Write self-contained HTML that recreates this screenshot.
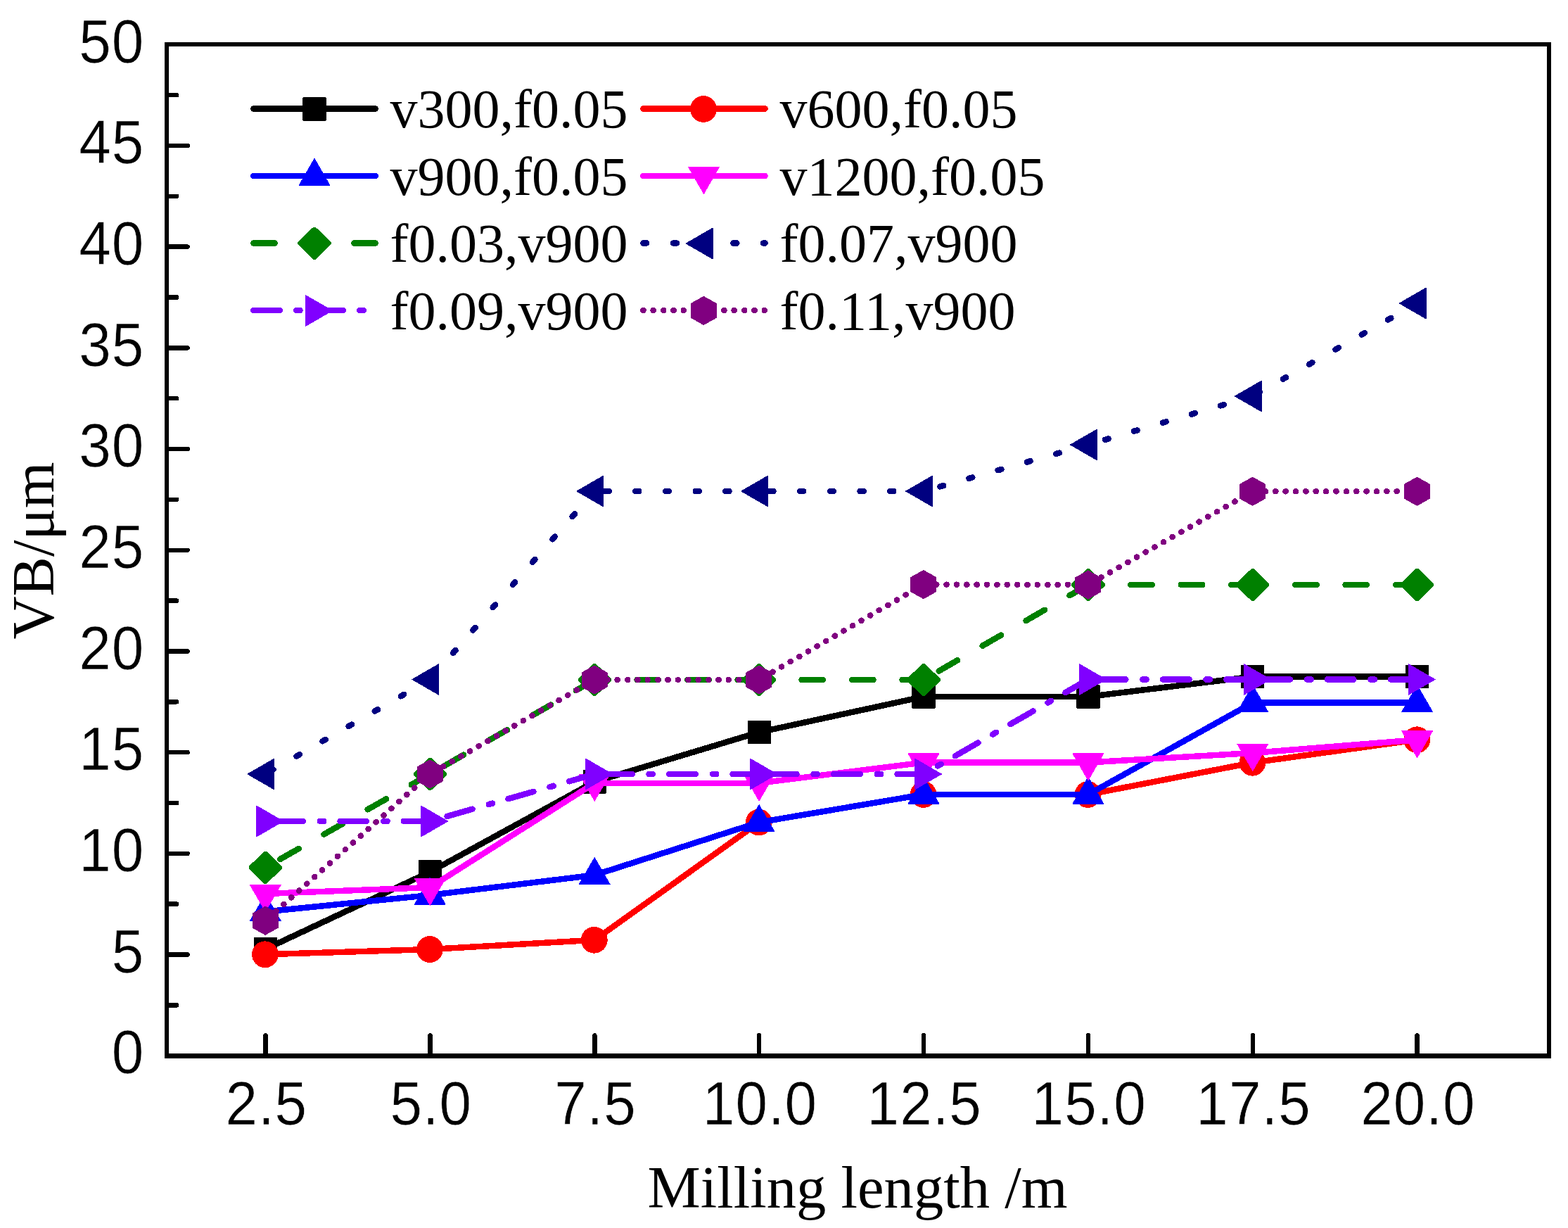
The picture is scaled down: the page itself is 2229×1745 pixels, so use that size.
<!DOCTYPE html>
<html lang="en"><head><meta charset="utf-8"><title>VB vs Milling length</title>
<style>html,body{margin:0;padding:0;background:#fff;overflow:hidden}svg{display:block}.t{font-family:"Liberation Sans",sans-serif;font-size:84px;fill:#000;stroke:#fff;stroke-width:0.6px}.a{font-family:"Liberation Serif",serif;font-size:84.6px;fill:#000}.l{font-family:"Liberation Serif",serif;font-size:78px;fill:#000}</style></head><body>
<svg width="2229" height="1745" viewBox="0 0 2229 1745" shape-rendering="crispEdges" role="img" aria-label="VB versus milling length">
<rect width="2229" height="1745" fill="#fff"/>
<g stroke="#000000" stroke-width="8.5" fill="none" stroke-linecap="round" stroke-linejoin="round">
<polyline points="377.3,1348.7 611.3,1239 845.2,1111 1079.1,1040.5 1313,990 1546.9,990 1780.8,961.5 2014.6,961.5"/>
</g>
<g><rect x="360.7" y="1332.1" width="33.2" height="33.2" rx="0.8" fill="#000000"/><rect x="594.7" y="1222.4" width="33.2" height="33.2" rx="0.8" fill="#000000"/><rect x="828.6" y="1094.4" width="33.2" height="33.2" rx="0.8" fill="#000000"/><rect x="1062.5" y="1023.9" width="33.2" height="33.2" rx="0.8" fill="#000000"/><rect x="1296.4" y="973.4" width="33.2" height="33.2" rx="0.8" fill="#000000"/><rect x="1530.3" y="973.4" width="33.2" height="33.2" rx="0.8" fill="#000000"/><rect x="1764.2" y="944.9" width="33.2" height="33.2" rx="0.8" fill="#000000"/><rect x="1998" y="944.9" width="33.2" height="33.2" rx="0.8" fill="#000000"/></g>
<g stroke="#ff0000" stroke-width="8.5" fill="none" stroke-linecap="round" stroke-linejoin="round">
<polyline points="377.3,1356.25 611.3,1349 845.2,1335.75 1079.1,1168.5 1313,1129 1546.9,1129 1780.8,1083.75 2014.6,1051.25"/>
</g>
<g><circle cx="376.9" cy="1356.25" r="18.9" fill="#ff0000"/><circle cx="610.9" cy="1349" r="18.9" fill="#ff0000"/><circle cx="844.8" cy="1335.75" r="18.9" fill="#ff0000"/><circle cx="1078.7" cy="1168.5" r="18.9" fill="#ff0000"/><circle cx="1312.6" cy="1129" r="18.9" fill="#ff0000"/><circle cx="1546.5" cy="1129" r="18.9" fill="#ff0000"/><circle cx="1780.4" cy="1083.75" r="18.9" fill="#ff0000"/><circle cx="2014.2" cy="1051.25" r="18.9" fill="#ff0000"/></g>
<g stroke="#0000ff" stroke-width="8.5" fill="none" stroke-linecap="round" stroke-linejoin="round">
<polyline points="377.3,1295.5 611.3,1272 845.2,1243.5 1079.1,1168.5 1313,1129 1546.9,1129 1780.8,998.5 2014.6,998.5"/>
</g>
<g><polygon points="355.4,1308.6 399.2,1308.6 377.3,1270.6" fill="#0000ff" stroke="#0000ff" stroke-width="1" stroke-linejoin="round"/><polygon points="589.4,1285.1 633.2,1285.1 611.3,1247.1" fill="#0000ff" stroke="#0000ff" stroke-width="1" stroke-linejoin="round"/><polygon points="823.3,1256.6 867.1,1256.6 845.2,1218.6" fill="#0000ff" stroke="#0000ff" stroke-width="1" stroke-linejoin="round"/><polygon points="1057.2,1181.6 1101,1181.6 1079.1,1143.6" fill="#0000ff" stroke="#0000ff" stroke-width="1" stroke-linejoin="round"/><polygon points="1291.1,1142.1 1334.9,1142.1 1313,1104.1" fill="#0000ff" stroke="#0000ff" stroke-width="1" stroke-linejoin="round"/><polygon points="1525,1142.1 1568.8,1142.1 1546.9,1104.1" fill="#0000ff" stroke="#0000ff" stroke-width="1" stroke-linejoin="round"/><polygon points="1758.9,1011.6 1802.7,1011.6 1780.8,973.6" fill="#0000ff" stroke="#0000ff" stroke-width="1" stroke-linejoin="round"/><polygon points="1992.7,1011.6 2036.5,1011.6 2014.6,973.6" fill="#0000ff" stroke="#0000ff" stroke-width="1" stroke-linejoin="round"/></g>
<g stroke="#ff00ff" stroke-width="8.5" fill="none" stroke-linecap="round" stroke-linejoin="round">
<polyline points="377.3,1270 611.3,1261 845.2,1112.75 1079.1,1112.75 1313,1083.5 1546.9,1083.5 1780.8,1070 2014.6,1051.25"/>
</g>
<g><polygon points="355.4,1257.4 399.2,1257.4 377.3,1295.4" fill="#ff00ff" stroke="#ff00ff" stroke-width="1" stroke-linejoin="round"/><polygon points="589.4,1248.4 633.2,1248.4 611.3,1286.4" fill="#ff00ff" stroke="#ff00ff" stroke-width="1" stroke-linejoin="round"/><polygon points="823.3,1100.15 867.1,1100.15 845.2,1138.15" fill="#ff00ff" stroke="#ff00ff" stroke-width="1" stroke-linejoin="round"/><polygon points="1057.2,1100.15 1101,1100.15 1079.1,1138.15" fill="#ff00ff" stroke="#ff00ff" stroke-width="1" stroke-linejoin="round"/><polygon points="1291.1,1070.9 1334.9,1070.9 1313,1108.9" fill="#ff00ff" stroke="#ff00ff" stroke-width="1" stroke-linejoin="round"/><polygon points="1525,1070.9 1568.8,1070.9 1546.9,1108.9" fill="#ff00ff" stroke="#ff00ff" stroke-width="1" stroke-linejoin="round"/><polygon points="1758.9,1057.4 1802.7,1057.4 1780.8,1095.4" fill="#ff00ff" stroke="#ff00ff" stroke-width="1" stroke-linejoin="round"/><polygon points="1992.7,1038.65 2036.5,1038.65 2014.6,1076.65" fill="#ff00ff" stroke="#ff00ff" stroke-width="1" stroke-linejoin="round"/></g>
<g stroke="#008000" stroke-width="8.5" fill="none" stroke-linecap="round" stroke-linejoin="round">
<path d="M611.3 1100L377.3 1232.8" stroke-dasharray="30.5 41"/>
<path d="M845.2 966L611.3 1100" stroke-dasharray="30.5 41"/>
<path d="M1079.1 966L845.2 966" stroke-dasharray="30.5 41"/>
<path d="M1313 966L1079.1 966" stroke-dasharray="30.5 41"/>
<path d="M1546.9 831L1313 966" stroke-dasharray="30.5 41"/>
<path d="M1780.8 831L1546.9 831" stroke-dasharray="30.5 41"/>
<path d="M2014.6 831L1780.8 831" stroke-dasharray="30.5 41"/>
</g>
<g><polygon points="353.7,1231.2 375.7,1209.7 378.9,1209.7 400.9,1231.2 400.9,1234.4 378.9,1255.9 375.7,1255.9 353.7,1234.4" fill="#008000"/><polygon points="587.7,1098.4 609.7,1076.9 612.9,1076.9 634.9,1098.4 634.9,1101.6 612.9,1123.1 609.7,1123.1 587.7,1101.6" fill="#008000"/><polygon points="821.6,964.4 843.6,942.9 846.8,942.9 868.8,964.4 868.8,967.6 846.8,989.1 843.6,989.1 821.6,967.6" fill="#008000"/><polygon points="1055.5,964.4 1077.5,942.9 1080.7,942.9 1102.7,964.4 1102.7,967.6 1080.7,989.1 1077.5,989.1 1055.5,967.6" fill="#008000"/><polygon points="1289.4,964.4 1311.4,942.9 1314.6,942.9 1336.6,964.4 1336.6,967.6 1314.6,989.1 1311.4,989.1 1289.4,967.6" fill="#008000"/><polygon points="1523.3,829.4 1545.3,807.9 1548.5,807.9 1570.5,829.4 1570.5,832.6 1548.5,854.1 1545.3,854.1 1523.3,832.6" fill="#008000"/><polygon points="1757.2,829.4 1779.2,807.9 1782.4,807.9 1804.4,829.4 1804.4,832.6 1782.4,854.1 1779.2,854.1 1757.2,832.6" fill="#008000"/><polygon points="1991,829.4 2013,807.9 2016.2,807.9 2038.2,829.4 2038.2,832.6 2016.2,854.1 2013,854.1 1991,832.6" fill="#008000"/></g>
<g stroke="#000080" stroke-width="8.5" fill="none" stroke-linecap="round" stroke-linejoin="round">
<path d="M611.3 965.5L377.3 1100" stroke-dasharray="5 37.82"/>
<path d="M845.2 698L611.3 965.5" stroke-dasharray="5 37.9"/>
<path d="M1079.1 698L845.2 698" stroke-dasharray="5 37.7"/>
<path d="M1313 698L1079.1 698" stroke-dasharray="5 37.7"/>
<path d="M1546.9 632L1313 698" stroke-dasharray="5 37.76"/>
<path d="M1780.8 563L1546.9 632" stroke-dasharray="5 37.77"/>
<path d="M2014.6 431L1780.8 563" stroke-dasharray="5 37.82"/>
</g>
<g><polygon points="389.9,1078.1 389.9,1121.9 351.9,1100" fill="#000080" stroke="#000080" stroke-width="1" stroke-linejoin="round"/><polygon points="623.9,943.6 623.9,987.4 585.9,965.5" fill="#000080" stroke="#000080" stroke-width="1" stroke-linejoin="round"/><polygon points="857.8,676.1 857.8,719.9 819.8,698" fill="#000080" stroke="#000080" stroke-width="1" stroke-linejoin="round"/><polygon points="1091.7,676.1 1091.7,719.9 1053.7,698" fill="#000080" stroke="#000080" stroke-width="1" stroke-linejoin="round"/><polygon points="1325.6,676.1 1325.6,719.9 1287.6,698" fill="#000080" stroke="#000080" stroke-width="1" stroke-linejoin="round"/><polygon points="1559.5,610.1 1559.5,653.9 1521.5,632" fill="#000080" stroke="#000080" stroke-width="1" stroke-linejoin="round"/><polygon points="1793.4,541.1 1793.4,584.9 1755.4,563" fill="#000080" stroke="#000080" stroke-width="1" stroke-linejoin="round"/><polygon points="2027.2,409.1 2027.2,452.9 1989.2,431" fill="#000080" stroke="#000080" stroke-width="1" stroke-linejoin="round"/></g>
<g stroke="#8000ff" stroke-width="8.5" fill="none" stroke-linecap="round" stroke-linejoin="round">
<path d="M611.3 1167L377.3 1167" stroke-dasharray="37.5 23.25 5.5 24"/>
<path d="M845.2 1100L611.3 1167" stroke-dasharray="37.5 23.25 5.5 24"/>
<path d="M1079.1 1100L845.2 1100" stroke-dasharray="37.5 23.25 5.5 24"/>
<path d="M1313 1100L1079.1 1100" stroke-dasharray="37.5 23.25 5.5 24"/>
<path d="M1546.9 965.5L1313 1100" stroke-dasharray="37.5 23.25 5.5 24"/>
<path d="M1780.8 965.5L1546.9 965.5" stroke-dasharray="37.5 23.25 5.5 24"/>
<path d="M2014.6 965.5L1780.8 965.5" stroke-dasharray="37.5 23.25 5.5 24"/>
</g>
<g><polygon points="364.7,1145.1 364.7,1188.9 402.7,1167" fill="#8000ff" stroke="#8000ff" stroke-width="1" stroke-linejoin="round"/><polygon points="598.7,1145.1 598.7,1188.9 636.7,1167" fill="#8000ff" stroke="#8000ff" stroke-width="1" stroke-linejoin="round"/><polygon points="832.6,1078.1 832.6,1121.9 870.6,1100" fill="#8000ff" stroke="#8000ff" stroke-width="1" stroke-linejoin="round"/><polygon points="1066.5,1078.1 1066.5,1121.9 1104.5,1100" fill="#8000ff" stroke="#8000ff" stroke-width="1" stroke-linejoin="round"/><polygon points="1300.4,1078.1 1300.4,1121.9 1338.4,1100" fill="#8000ff" stroke="#8000ff" stroke-width="1" stroke-linejoin="round"/><polygon points="1534.3,943.6 1534.3,987.4 1572.3,965.5" fill="#8000ff" stroke="#8000ff" stroke-width="1" stroke-linejoin="round"/><polygon points="1768.2,943.6 1768.2,987.4 1806.2,965.5" fill="#8000ff" stroke="#8000ff" stroke-width="1" stroke-linejoin="round"/><polygon points="2002,943.6 2002,987.4 2040,965.5" fill="#8000ff" stroke="#8000ff" stroke-width="1" stroke-linejoin="round"/></g>
<g stroke="#800080" stroke-width="8.5" fill="none" stroke-linecap="round" stroke-linejoin="round">
<path d="M611.3 1100L377.3 1308.25" stroke-dasharray="0.3 14.34"/>
<path d="M845.2 966L611.3 1100" stroke-dasharray="0.3 14.27"/>
<path d="M1079.1 966L845.2 966" stroke-dasharray="0.3 14.07"/>
<path d="M1313 830.6L1079.1 966" stroke-dasharray="0.3 14.27"/>
<path d="M1546.9 831L1313 830.6" stroke-dasharray="0.3 14.07"/>
<path d="M1780.8 698.25L1546.9 831" stroke-dasharray="0.3 14.26"/>
<path d="M2014.6 698.25L1780.8 698.25" stroke-dasharray="0.3 14.07"/>
</g>
<g><polygon points="377.1,1288.15 395.1,1298.2 395.1,1318.3 377.1,1328.35 359.1,1318.3 359.1,1298.2" fill="#800080" stroke="#800080" stroke-width="1" stroke-linejoin="round"/><polygon points="611.1,1079.9 629.1,1089.95 629.1,1110.05 611.1,1120.1 593.1,1110.05 593.1,1089.95" fill="#800080" stroke="#800080" stroke-width="1" stroke-linejoin="round"/><polygon points="845,945.9 863,955.95 863,976.05 845,986.1 827,976.05 827,955.95" fill="#800080" stroke="#800080" stroke-width="1" stroke-linejoin="round"/><polygon points="1078.9,945.9 1096.9,955.95 1096.9,976.05 1078.9,986.1 1060.9,976.05 1060.9,955.95" fill="#800080" stroke="#800080" stroke-width="1" stroke-linejoin="round"/><polygon points="1312.8,810.5 1330.8,820.55 1330.8,840.65 1312.8,850.7 1294.8,840.65 1294.8,820.55" fill="#800080" stroke="#800080" stroke-width="1" stroke-linejoin="round"/><polygon points="1546.7,810.9 1564.7,820.95 1564.7,841.05 1546.7,851.1 1528.7,841.05 1528.7,820.95" fill="#800080" stroke="#800080" stroke-width="1" stroke-linejoin="round"/><polygon points="1780.6,678.15 1798.6,688.2 1798.6,708.3 1780.6,718.35 1762.6,708.3 1762.6,688.2" fill="#800080" stroke="#800080" stroke-width="1" stroke-linejoin="round"/><polygon points="2014.4,678.15 2032.4,688.2 2032.4,708.3 2014.4,718.35 1996.4,708.3 1996.4,688.2" fill="#800080" stroke="#800080" stroke-width="1" stroke-linejoin="round"/></g>
<g stroke="#000" stroke-width="6.5" fill="none" stroke-linecap="round">
<rect x="237" y="63" width="1965" height="1437.5" stroke-linejoin="miter"/>
<path d="M237 1428.36h14.25M237 1356.51h29.55M237 1284.66h14.25M237 1212.82h29.55M237 1140.97h14.25M237 1069.13h29.55M237 997.29h14.25M237 925.44h29.55M237 853.6h14.25M237 781.75h29.55M237 709.91h14.25M237 638.06h29.55M237 566.22h14.25M237 494.37h29.55M237 422.53h14.25M237 350.68h29.55M237 278.84h14.25M237 206.99h29.55M237 135.14h14.25M377.6 1500.5v-29.15M611.5 1500.5v-29.15M845.3 1500.5v-29.15M1079.2 1500.5v-29.15M1313 1500.5v-29.15M1546.9 1500.5v-29.15M1780.8 1500.5v-29.15M2014.6 1500.5v-29.15"/>
</g>
<g class="t">
<text transform="translate(158.28 1525.4) scale(0.975 1.033)" dx="0.6">0</text>
<text transform="translate(158.28 1381.71) scale(0.975 1.033)" dx="0.6">5</text>
<text transform="translate(111.57 1238.02) scale(0.975 1.033)" dx="0.6 1.2">10</text>
<text transform="translate(111.57 1094.33) scale(0.975 1.033)" dx="0.6 1.2">15</text>
<text transform="translate(111.57 950.64) scale(0.975 1.033)" dx="0.6 1.2">20</text>
<text transform="translate(111.57 806.95) scale(0.975 1.033)" dx="0.6 1.2">25</text>
<text transform="translate(111.57 663.26) scale(0.975 1.033)" dx="0.6 1.2">30</text>
<text transform="translate(111.57 519.57) scale(0.975 1.033)" dx="0.6 1.2">35</text>
<text transform="translate(111.57 375.88) scale(0.975 1.033)" dx="0.6 1.2">40</text>
<text transform="translate(111.57 232.19) scale(0.975 1.033)" dx="0.6 1.2">45</text>
<text transform="translate(111.57 88.5) scale(0.975 1.033)" dx="0.6 1.2">50</text>
</g>
<g class="t">
<text transform="translate(319.91 1598) scale(0.975 1.033)" dx="0.6 0.9 0.9">2.5</text>
<text transform="translate(553.81 1598) scale(0.975 1.033)" dx="0.6 0.9 0.9">5.0</text>
<text transform="translate(787.61 1598) scale(0.975 1.033)" dx="0.6 0.9 0.9">7.5</text>
<text transform="translate(998.16 1598) scale(0.975 1.033)" dx="0.6 1.2 0.9 0.9">10.0</text>
<text transform="translate(1231.96 1598) scale(0.975 1.033)" dx="0.6 1.2 0.9 0.9">12.5</text>
<text transform="translate(1465.86 1598) scale(0.975 1.033)" dx="0.6 1.2 0.9 0.9">15.0</text>
<text transform="translate(1699.76 1598) scale(0.975 1.033)" dx="0.6 1.2 0.9 0.9">17.5</text>
<text transform="translate(1933.56 1598) scale(0.975 1.033)" dx="0.6 1.2 0.9 0.9">20.0</text>
</g>
<text class="a" text-anchor="middle" x="1219" y="1715.5">Milling length /m</text>
<text class="a" text-anchor="middle" transform="translate(75.5 782.5) rotate(-90)">VB/μm</text>
<path d="M360.25 154.5H533.75" stroke="#000000" stroke-width="8.5" stroke-linecap="round" fill="none"/>
<rect x="430.4" y="138.4" width="33.2" height="33.2" rx="0.8" fill="#000000"/>
<text class="l" x="554.5" y="181">v300,f0.05</text>
<path d="M914.25 154.5H1087.5" stroke="#ff0000" stroke-width="8.5" stroke-linecap="round" fill="none"/>
<circle cx="1000.1" cy="154.9" r="18.9" fill="#ff0000"/>
<text class="l" x="1108.5" y="181">v600,f0.05</text>
<path d="M360.25 250H533.75" stroke="#0000ff" stroke-width="8.5" stroke-linecap="round" fill="none"/>
<polygon points="425.1,263.35 468.9,263.35 447,225.35" fill="#0000ff" stroke="#0000ff" stroke-width="1" stroke-linejoin="round"/>
<text class="l" x="554.5" y="276.5">v900,f0.05</text>
<path d="M914.25 250H1087.5" stroke="#ff00ff" stroke-width="8.5" stroke-linecap="round" fill="none"/>
<polygon points="978.6,237.4 1022.4,237.4 1000.5,275.4" fill="#ff00ff" stroke="#ff00ff" stroke-width="1" stroke-linejoin="round"/>
<text class="l" x="1108.5" y="276.5">v1200,f0.05</text>
<path d="M360.25 345.5H533.75" stroke="#008000" stroke-width="8.5" stroke-linecap="round" fill="none" stroke-dasharray="30.5 41"/>
<polygon points="423.4,344.15 445.4,322.65 448.6,322.65 470.6,344.15 470.6,347.35 448.6,368.85 445.4,368.85 423.4,347.35" fill="#008000"/>
<text class="l" x="554.5" y="372">f0.03,v900</text>
<path d="M914.25 345.5H1087.5" stroke="#000080" stroke-width="8.5" stroke-linecap="round" fill="none" stroke-dasharray="5 37.7"/>
<polygon points="1013.1,324.1 1013.1,367.9 975.1,346" fill="#000080" stroke="#000080" stroke-width="1" stroke-linejoin="round"/>
<text class="l" x="1108.5" y="372">f0.07,v900</text>
<path d="M360.25 441H533.75" stroke="#8000ff" stroke-width="8.5" stroke-linecap="round" fill="none" stroke-dasharray="37.5 23.25 5.5 24"/>
<polygon points="434.4,419.6 434.4,463.4 472.4,441.5" fill="#8000ff" stroke="#8000ff" stroke-width="1" stroke-linejoin="round"/>
<text class="l" x="554.5" y="467.75">f0.09,v900</text>
<path d="M914.25 441H1087.5" stroke="#800080" stroke-width="8.5" stroke-linecap="round" fill="none" stroke-dasharray="0.3 14.07"/>
<polygon points="1000.3,421.3 1018.3,431.35 1018.3,451.45 1000.3,461.5 982.3,451.45 982.3,431.35" fill="#800080" stroke="#800080" stroke-width="1" stroke-linejoin="round"/>
<text class="l" x="1108.5" y="467.75">f0.11,v900</text>
</svg></body></html>
